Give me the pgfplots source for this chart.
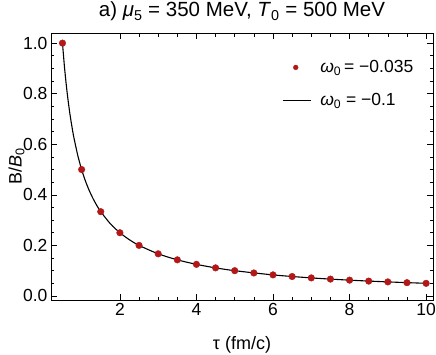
\documentclass[border=0pt]{standalone}
\usepackage{fontspec}
\setmainfont{Liberation Sans}
\usepackage{pgfplots}
\pgfplotsset{compat=1.18}
\definecolor{mred}{RGB}{178,24,24}
\begin{document}
\begin{tikzpicture}[x=1pt,y=1pt]
\begin{axis}[
  name=ax,
  scale only axis,
  width=382pt, height=267pt,
  xmin=0.2, xmax=10.18,
  ymin=-0.016, ymax=1.04,
  xtick={2,4,6,8,10},
  ytick={0,0.2,0.4,0.6,0.8,1.0},
  minor x tick num=3,
  minor y tick num=3,
  tick align=inside,
  axis line style={line width=0.9pt},
  major tick length=6pt, minor tick length=3.5pt,
  every tick/.style={black, line width=0.6pt},
  xticklabel style={/pgf/number format/.cd, fixed, precision=0},
  yticklabel style={/pgf/number format/.cd, fixed, fixed zerofill, precision=1},
  /pgf/number format/assume math mode=true,
  ticklabel style={font=\fontsize{17.5}{17.5}\selectfont},
  xlabel={τ (fm/c)},
  ylabel={B/\textit{B}\textsubscript{0}},
  label style={font=\fontsize{18}{18}\selectfont},
  xlabel style={at={(axis description cs:0.5,-0.1835)}, anchor=base},
  ylabel style={at={(axis description cs:-0.0772,0.5)}, anchor=base},
  title={a) \textit{μ}\textsubscript{5} = 350 MeV, \textit{T}\textsubscript{0} = 500 MeV},
  title style={font=\fontsize{20.5}{20.5}\selectfont, at={(axis description cs:0.5,1.0)}, anchor=base, yshift=10pt},
  legend style={draw=none, fill=none, at={(axis description cs:0.6047,0.905)}, anchor=north west,
    font=\fontsize{17.5}{17.5}\selectfont, row sep=15pt, inner sep=0pt,
    /tikz/every odd column/.append style={column sep=7pt}},
  legend cell align=left,
]
\addplot[only marks, mark=*, mark size=3.3pt, color=mred,
  legend image code/.code={\path[draw=none,fill=none] (0pt,0pt) -- (28pt,0pt); \fill[mred] (13pt,0pt) circle (2.4pt);}] coordinates {
(0.5,1.0)(1.0,0.5)(1.5,0.3333)(2.0,0.25)(2.5,0.2)(3.0,0.1667)(3.5,0.1429)(4.0,0.125)(4.5,0.1111)(5.0,0.1)
(5.5,0.0909)(6.0,0.0833)(6.5,0.0769)(7.0,0.0714)(7.5,0.0667)(8.0,0.0625)(8.5,0.0588)(9.0,0.0556)(9.5,0.0526)(10.0,0.05)
};
\addlegendentry{\textit{ω}\textsubscript{0}\,= −0.035}
\addplot[black, line width=1.1pt, smooth, no marks,
  legend image code/.code={\draw[black, line width=1.1pt] (0pt,0pt) -- (28pt,0pt);}] coordinates {
(0.5,1.0)(0.55,0.9091)(0.6,0.8333)(0.65,0.7692)(0.7,0.7143)(0.75,0.6667)(0.8,0.625)(0.9,0.5556)(1.0,0.5)
(1.1,0.4545)(1.2,0.4167)(1.3,0.3846)(1.4,0.3571)(1.5,0.3333)(1.75,0.2857)(2.0,0.25)(2.25,0.2222)(2.5,0.2)
(3.0,0.1667)(3.5,0.1429)(4.0,0.125)(4.5,0.1111)(5.0,0.1)(6.0,0.0833)(7.0,0.0714)(8.0,0.0625)(9.0,0.0556)(10.0,0.05)
};
\addlegendentry{\textit{ω}\textsubscript{0} = −0.1}
\end{axis}
\pgfresetboundingbox
\useasboundingbox (ax.south west) ++(-51pt,-54pt) rectangle ++(436pt,354pt);
\end{tikzpicture}
\end{document}
